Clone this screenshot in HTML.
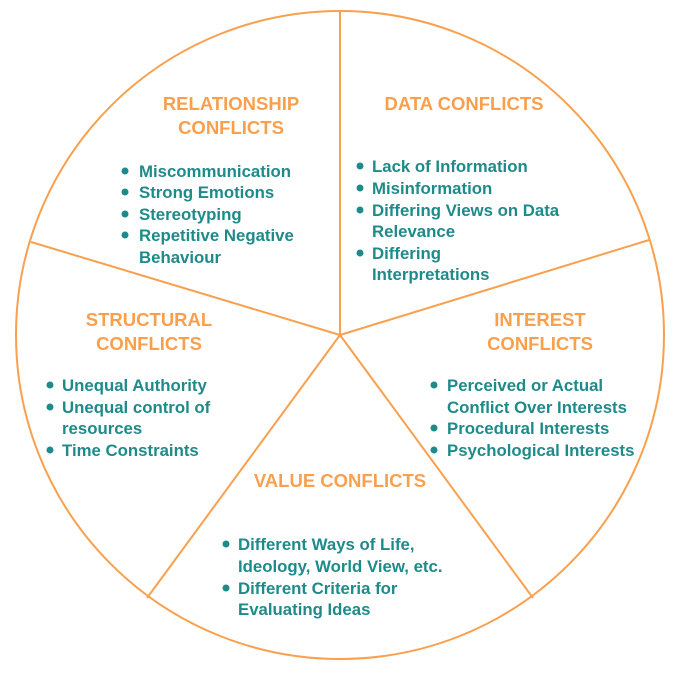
<!DOCTYPE html>
<html><head><style>
body{margin:0;background:#fff;}
svg text{font-family:"Liberation Sans",sans-serif;font-weight:bold;}
.t{fill:#f9a04f;font-size:18.5px;text-anchor:middle;}
.b{fill:#1f8a8a;font-size:16.8px;}
circle.d{fill:#1f8a8a;}
</style></head><body>
<svg width="675" height="671" viewBox="0 0 675 671" xmlns="http://www.w3.org/2000/svg">
<g stroke="#f9a04f" stroke-width="2" fill="none">
<circle cx="340" cy="335" r="324"/>
<line x1="340" y1="335" x2="340" y2="11"/>
<line x1="340" y1="335" x2="31" y2="242"/>
<line x1="340" y1="335" x2="649" y2="240"/>
<line x1="340" y1="335" x2="147" y2="598"/>
<line x1="340" y1="335" x2="533" y2="598"/>
</g>
<text class="t" x="231" y="110">RELATIONSHIP</text>
<text class="t" x="231" y="134">CONFLICTS</text>
<circle class="d" cx="125" cy="171" r="3.5"/><text class="b" x="139" y="177">Miscommunication</text>
<circle class="d" cx="125" cy="192" r="3.5"/><text class="b" x="139" y="198">Strong Emotions</text>
<circle class="d" cx="125" cy="214" r="3.5"/><text class="b" x="139" y="220">Stereotyping</text>
<circle class="d" cx="125" cy="235" r="3.5"/><text class="b" x="139" y="241">Repetitive Negative</text>
<text class="b" x="139" y="263">Behaviour</text>

<text class="t" x="464" y="110">DATA CONFLICTS</text>
<circle class="d" cx="360" cy="166" r="3.5"/><text class="b" x="372" y="172">Lack of Information</text>
<circle class="d" cx="360" cy="188" r="3.5"/><text class="b" x="372" y="194">Misinformation</text>
<circle class="d" cx="360" cy="210" r="3.5"/><text class="b" x="372" y="216">Differing Views on Data</text>
<text class="b" x="372" y="237">Relevance</text>
<circle class="d" cx="360" cy="253" r="3.5"/><text class="b" x="372" y="259">Differing</text>
<text class="b" x="372" y="280">Interpretations</text>

<text class="t" x="149" y="326">STRUCTURAL</text>
<text class="t" x="149" y="350">CONFLICTS</text>
<circle class="d" cx="50" cy="385" r="3.5"/><text class="b" x="62" y="391">Unequal Authority</text>
<circle class="d" cx="50" cy="407" r="3.5"/><text class="b" x="62" y="413">Unequal control of</text>
<text class="b" x="62" y="434">resources</text>
<circle class="d" cx="50" cy="450" r="3.5"/><text class="b" x="62" y="456">Time Constraints</text>

<text class="t" x="540" y="326">INTEREST</text>
<text class="t" x="540" y="350">CONFLICTS</text>
<circle class="d" cx="434" cy="385" r="3.5"/><text class="b" x="447" y="391">Perceived or Actual</text>
<text class="b" x="447" y="413">Conflict Over Interests</text>
<circle class="d" cx="434" cy="428" r="3.5"/><text class="b" x="447" y="434">Procedural Interests</text>
<circle class="d" cx="434" cy="450" r="3.5"/><text class="b" x="447" y="456">Psychological Interests</text>

<text class="t" x="340" y="487">VALUE CONFLICTS</text>
<circle class="d" cx="226" cy="544" r="3.5"/><text class="b" x="238" y="550">Different Ways of Life,</text>
<text class="b" x="238" y="572">Ideology, World View, etc.</text>
<circle class="d" cx="226" cy="588" r="3.5"/><text class="b" x="238" y="594">Different Criteria for</text>
<text class="b" x="238" y="615">Evaluating Ideas</text>
</svg>
</body></html>
